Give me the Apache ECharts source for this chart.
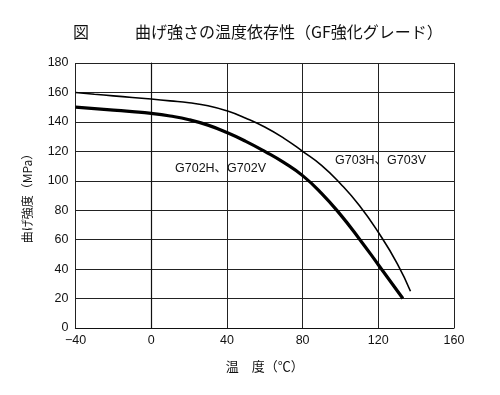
<!DOCTYPE html>
<html><head><meta charset="utf-8">
<script src="https://cdn.jsdelivr.net/npm/echarts@6/dist/echarts.min.js"></script>
<style>html,body{margin:0;padding:0;background:#fff}#c{width:500px;height:395px}</style>
</head><body><div id="c"></div>
<script>
const titleText = '曲げ強さの温度依存性（GF強化グレード）';
const figLabel = '図';
const xName = '温　度（℃）';
const yName = '曲げ強度（MPa）';
const g702Name = 'G702H、G702V';
const g703Name = 'G703H、G703V';
const g702Temp = [-40, -30, -20, -10, 0, 10, 20, 30, 40, 50, 60, 70, 80, 90, 100, 110, 120, 133];
const g702Val  = [150, 149, 148, 147, 145.8, 144, 141.5, 137.8, 132.8, 126.8, 120, 112.5, 103.5, 91.5, 77, 60.5, 43, 20];
const g703Temp = [-40, -30, -20, -10, 0, 10, 20, 30, 40, 50, 60, 70, 80, 90, 100, 110, 120, 130, 137];
const g703Val  = [160, 158.8, 157.7, 156.6, 155.5, 154.3, 153, 151, 147.5, 142.5, 136.5, 129, 120, 110.5, 98, 83.2, 65, 43.8, 25];

const FONT = "'Liberation Sans', 'Noto Sans CJK JP', sans-serif";
const chart = echarts.init(document.getElementById('c'));
const zip = (a, b) => a.map((v, i) => [v, b[i]]);
chart.setOption({
  animation: false,
  backgroundColor: '#fff',
  textStyle: { fontFamily: FONT, color: '#111' },
  grid: { left: 75.5, right: 46, top: 63, bottom: 67 },
  graphic: [
    { type: 'text', left: 73, top: 24, style: { text: figLabel, font: "16px 'Noto Sans CJK JP'", fill: '#111' } },
    { type: 'text', left: 135, top: 24, style: { text: titleText, font: "16px 'Noto Sans CJK JP'", fill: '#111' } },
    { type: 'text', left: 175, top: 162, style: { text: g702Name, font: "12.5px " + FONT, fill: '#111' } },
    { type: 'text', left: 335, top: 154, style: { text: g703Name, font: "12.5px " + FONT, fill: '#111' } }
  ],
  xAxis: {
    type: 'value', min: -40, max: 160, interval: 40,
    name: xName, nameLocation: 'middle', nameGap: 32,
    nameTextStyle: { fontSize: 13, color: '#111', fontFamily: "'Noto Sans CJK JP'" },
    axisLine: { show: true, lineStyle: { color: '#111', width: 1.2 } },
    axisTick: { show: false },
    axisLabel: { fontSize: 12.5, color: '#111', margin: 6, formatter: v => String(v).replace('-', '−') },
    splitLine: { show: true, lineStyle: { color: '#222', width: 1 } }
  },
  yAxis: {
    type: 'value', min: 0, max: 180, interval: 20,
    name: yName, nameLocation: 'middle', nameGap: 42, nameRotate: 90,
    nameTextStyle: { fontSize: 12, color: '#111', fontFamily: "'Noto Sans CJK JP'" },
    axisLine: { show: true, lineStyle: { color: '#111', width: 1.2 } },
    axisTick: { show: false },
    axisLabel: { fontSize: 12.5, color: '#111', margin: 7 },
    splitLine: { show: true, lineStyle: { color: '#222', width: 1 } }
  },
  series: [
    { type: 'line', name: g702Name, data: zip(g702Temp, g702Val), smooth: 0.5, showSymbol: false,
      lineStyle: { color: '#000', width: 3.2 } },
    { type: 'line', name: g703Name, data: zip(g703Temp, g703Val), smooth: 0.5, showSymbol: false,
      lineStyle: { color: '#000', width: 1.6 } }
  ]
});
</script></body></html>
